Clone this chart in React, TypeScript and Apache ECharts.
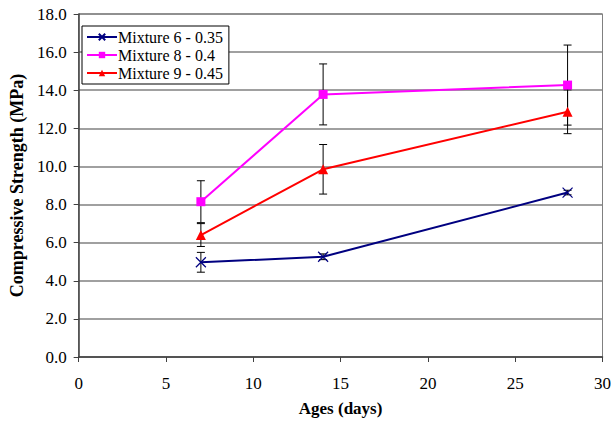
import React, { useEffect, useRef } from "react";
import * as echarts from "echarts";

const ages = [7, 14, 28];
const mix6 = [4.97, 5.26, 8.63];
const mix8 = [8.15, 13.78, 14.27];
const mix9 = [6.4, 9.85, 12.87];
const err6 = [0.52, 0.15, 0.12];
const err8 = [1.1, 1.6, 2.1];
const err9 = [0.6, 1.3, 1.15];
const seriesNames = ["Mixture 6 - 0.35", "Mixture 8 - 0.4", "Mixture 9 - 0.45"];
const colors = ["#000080", "#FF00FF", "#FF0000"];

const FONT = "Times New Roman, Liberation Serif, Tinos, DejaVu Serif, serif";

function errRows(vals: number[], errs: number[]) {
  return ages.map((a, i) => [a, vals[i] - errs[i], vals[i] + errs[i]]);
}

export default function App() {
  const ref = useRef<HTMLDivElement>(null);
  useEffect(() => {
    if (!ref.current) return;
    const chart = echarts.init(ref.current, null, { renderer: "svg" });
    const errorSeries = (rows: number[][], id: string) => ({
      type: "custom",
      id,
      z: 1,
      silent: true,
      data: rows,
      renderItem: (_p: any, api: any) => {
        const x = api.value(0);
        const lo = api.coord([x, api.value(1)]);
        const hi = api.coord([x, api.value(2)]);
        const w = 4;
        const style = { stroke: "#000", lineWidth: 1 };
        return {
          type: "group",
          children: [
            { type: "line", shape: { x1: lo[0], y1: lo[1], x2: hi[0], y2: hi[1] }, style },
            { type: "line", shape: { x1: lo[0] - w, y1: lo[1], x2: lo[0] + w, y2: lo[1] }, style },
            { type: "line", shape: { x1: hi[0] - w, y1: hi[1], x2: hi[0] + w, y2: hi[1] }, style },
          ],
        };
      },
    });
    chart.setOption({
      animation: false,
      textStyle: { fontFamily: FONT, color: "#000" },
      grid: {
        left: 76,
        right: 10,
        top: 14,
        bottom: 66,
        show: true,
        borderColor: "#808080",
        borderWidth: 1,
      },
      legend: {
        data: seriesNames,
        orient: "vertical",
        left: 82,
        top: 26,
        backgroundColor: "#fff",
        borderColor: "#000",
        borderWidth: 1,
        padding: [3, 6, 3, 4],
        itemGap: 2,
        itemWidth: 30,
        itemHeight: 8,
        textStyle: { fontFamily: FONT, fontSize: 16, color: "#000", padding: [0, 0, 0, -4] },
      },
      xAxis: {
        type: "value",
        min: 0,
        max: 30,
        interval: 5,
        name: "Ages (days)",
        nameLocation: "middle",
        nameGap: 43,
        nameTextStyle: { fontFamily: FONT, fontSize: 17, fontWeight: "bold", color: "#000" },
        axisLine: { lineStyle: { color: "#404040", width: 1.5 } },
        axisTick: { show: true, length: 5, inside: false, lineStyle: { color: "#404040" } },
        axisLabel: { fontFamily: FONT, fontSize: 17, color: "#000", margin: 18 },
        splitLine: { show: false },
      },
      yAxis: {
        type: "value",
        min: 0,
        max: 18,
        interval: 2,
        name: "Compressive Strength (MPa)",
        nameLocation: "middle",
        nameGap: 50,
        nameTextStyle: { fontFamily: FONT, fontSize: 18, fontWeight: "bold", color: "#000" },
        axisLine: { show: true, lineStyle: { color: "#404040", width: 1.5 } },
        axisTick: { show: true, length: 5, lineStyle: { color: "#404040" } },
        axisLabel: {
          fontFamily: FONT,
          fontSize: 17,
          color: "#000",
          margin: 12,
          formatter: (v: number) => v.toFixed(1),
        },
        splitLine: { show: true, lineStyle: { color: "#808080", width: 1.5 } },
      },
      series: [
        errorSeries(errRows(mix6, err6), "e6"),
        errorSeries(errRows(mix8, err8), "e8"),
        errorSeries(errRows(mix9, err9), "e9"),
        {
          name: seriesNames[0],
          type: "line",
          z: 3,
          data: ages.map((a, i) => [a, mix6[i]]),
          symbol: "path://M0,0L10,10M10,0L0,10",
          symbolSize: 10,
          showAllSymbol: true,
          lineStyle: { color: colors[0], width: 2 },
          itemStyle: { color: "none", borderColor: colors[0], borderWidth: 1.2 },
        },
        {
          name: seriesNames[1],
          type: "line",
          z: 3,
          data: ages.map((a, i) => [a, mix8[i]]),
          symbol: "rect",
          symbolSize: 9,
          lineStyle: { color: colors[1], width: 2 },
          itemStyle: { color: colors[1] },
        },
        {
          name: seriesNames[2],
          type: "line",
          z: 3,
          data: ages.map((a, i) => [a, mix9[i]]),
          symbol: "triangle",
          symbolSize: 10,
          lineStyle: { color: colors[2], width: 2 },
          itemStyle: { color: colors[2] },
        },
      ],
    });
    return () => chart.dispose();
  }, []);
  return <div ref={ref} style={{ width: 614, height: 423, position: "absolute", left: 0, top: 0 }} />;
}
